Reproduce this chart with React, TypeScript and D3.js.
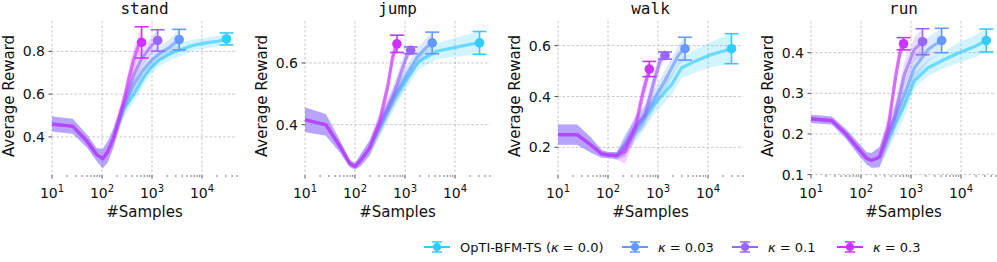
import React from "react";
import * as d3 from "d3";

// tasks / series
const tasks = ["stand", "jump", "walk", "run"];
const kappaLabels = ["0.0", "0.03", "0.1", "0.3"];
const colors = ["#33ccff", "#6699ff", "#9966ff", "#cc33ff"];
const xMajor = [10, 100, 1000, 10000];

// y ticks and limits per task
const yTicks = [
  [0.4, 0.6, 0.8],
  [0.4, 0.6],
  [0.2, 0.4, 0.6],
  [0.1, 0.2, 0.3, 0.4],
];
const yLims = [
  [0.222, 0.942],
  [0.237, 0.736],
  [0.091, 0.697],
  [0.099, 0.478],
];

// [samples, mean, std] ; shared warm-up part then one tail per kappa
const standShared = [[10, 0.46, 0.035], [26, 0.45, 0.035], [50, 0.38, 0.03], [78, 0.318, 0.03], [103, 0.298, 0.045], [130, 0.33, 0.05], [170, 0.395, 0.045]];
const standK0 = [[270, 0.53, 0.04], [430, 0.597, 0.035], [650, 0.67, 0.035], [930, 0.722, 0.035], [1400, 0.76, 0.03], [2100, 0.784, 0.03], [3000, 0.8, 0.03], [4500, 0.815, 0.03], [7000, 0.83, 0.025], [10000, 0.836, 0.025], [15000, 0.843, 0.025], [21000, 0.847, 0.025], [31000, 0.858, 0.028]];
const standK1 = [[270, 0.54, 0.04], [430, 0.644, 0.04], [650, 0.71, 0.04], [930, 0.753, 0.04], [1400, 0.79, 0.035], [2100, 0.815, 0.035], [3500, 0.855, 0.048]];
const standK2 = [[270, 0.55, 0.04], [430, 0.69, 0.04], [600, 0.76, 0.04], [800, 0.8, 0.04], [1000, 0.83, 0.04], [1300, 0.851, 0.05]];
const standK3 = [[270, 0.565, 0.04], [350, 0.68, 0.05], [430, 0.76, 0.05], [540, 0.83, 0.05], [620, 0.842, 0.073]];

const jumpShared = [[10, 0.416, 0.04], [26, 0.4, 0.035], [50, 0.33, 0.02], [78, 0.275, 0.012], [100, 0.265, 0.01], [130, 0.285, 0.02], [195, 0.324, 0.025]];
const jumpK0 = [[310, 0.39, 0.03], [600, 0.48, 0.03], [910, 0.53, 0.03], [1900, 0.605, 0.025], [4300, 0.638, 0.025], [9100, 0.649, 0.03], [19500, 0.66, 0.035], [31000, 0.665, 0.037]];
const jumpK1 = [[310, 0.395, 0.03], [600, 0.49, 0.03], [910, 0.54, 0.03], [1700, 0.616, 0.03], [2600, 0.649, 0.03], [3500, 0.665, 0.035]];
const jumpK2 = [[310, 0.4, 0.03], [590, 0.497, 0.03], [850, 0.573, 0.03], [1100, 0.625, 0.02], [1300, 0.641, 0.011]];
const jumpK3 = [[310, 0.41, 0.03], [460, 0.53, 0.03], [560, 0.616, 0.03], [690, 0.662, 0.028]];

const walkShared = [[10, 0.25, 0.04], [24, 0.25, 0.04], [45, 0.21, 0.03], [75, 0.174, 0.015], [100, 0.17, 0.012], [150, 0.167, 0.015]];
const walkK0 = [[220, 0.21, 0.04], [400, 0.276, 0.04], [870, 0.374, 0.04], [1860, 0.446, 0.04], [2950, 0.512, 0.04], [5500, 0.539, 0.045], [11700, 0.565, 0.05], [29500, 0.588, 0.059]];
const walkK1 = [[220, 0.21, 0.04], [350, 0.28, 0.04], [510, 0.315, 0.04], [870, 0.394, 0.04], [1600, 0.486, 0.04], [2600, 0.565, 0.04], [3470, 0.588, 0.045]];
const walkK2 = [[220, 0.2, 0.04], [350, 0.28, 0.04], [550, 0.328, 0.04], [870, 0.473, 0.04], [1100, 0.54, 0.03], [1380, 0.561, 0.014]];
const walkK3 = [[220, 0.184, 0.05], [350, 0.276, 0.04], [490, 0.407, 0.04], [670, 0.508, 0.03]];

const runShared = [[10, 0.237, 0.01], [26, 0.233, 0.01], [50, 0.2, 0.012], [95, 0.159, 0.015], [130, 0.14, 0.015], [163, 0.135, 0.018], [235, 0.143, 0.025]];
const runK0 = [[350, 0.19, 0.03], [700, 0.265, 0.03], [1170, 0.331, 0.02], [2200, 0.363, 0.02], [4100, 0.38, 0.02], [9100, 0.4, 0.025], [19500, 0.416, 0.027], [32000, 0.43, 0.028]];
const runK1 = [[350, 0.2, 0.03], [700, 0.29, 0.03], [1170, 0.363, 0.03], [2200, 0.408, 0.03], [3000, 0.42, 0.03], [4100, 0.43, 0.03]];
const runK2 = [[350, 0.2, 0.03], [470, 0.241, 0.03], [740, 0.347, 0.03], [1170, 0.408, 0.03], [1700, 0.427, 0.032]];
const runK3 = [[350, 0.216, 0.03], [490, 0.339, 0.03], [600, 0.4, 0.02], [710, 0.422, 0.015]];

const shared = [standShared, jumpShared, walkShared, runShared];
const tails = [
  [standK0, standK1, standK2, standK3],
  [jumpK0, jumpK1, jumpK2, jumpK3],
  [walkK0, walkK1, walkK2, walkK3],
  [runK0, runK1, runK2, runK3],
];

const W = 997;
const H = 262;
const panelLeft = 52;
const panelStep = 253;
const panelW = 185;
const top = 21;
const bottom = 175;
const font = "DejaVu Sans, sans-serif";

function Panel({ idx }: { idx: number }) {
  const x0 = panelLeft + idx * panelStep;
  const x = d3.scaleLog().domain([10, Math.pow(10, 4.7)]).range([x0, x0 + panelW]);
  const y = d3.scaleLinear().domain(yLims[idx]).range([bottom, top]);

  const minor: number[] = [];
  for (let e = 1; e <= 4; e++) {
    for (let m = 2; m <= 9; m++) {
      const v = m * Math.pow(10, e);
      if (v <= x.domain()[1]) minor.push(v);
    }
  }

  const line = d3.line<number[]>().x((d) => x(d[0])).y((d) => y(d[1]));
  const area = d3
    .area<number[]>()
    .x((d) => x(d[0]))
    .y0((d) => y(d[1] - d[2]))
    .y1((d) => y(d[1] + d[2]));

  const cx = x0 + panelW / 2;

  return (
    <g>
      {/* grid */}
      {xMajor.map((v) => (
        <line key={"gx" + v} x1={x(v)} x2={x(v)} y1={top} y2={bottom} stroke="#b8b8b8" strokeWidth={0.8} strokeDasharray="2.5,2" />
      ))}
      {yTicks[idx].map((v) => (
        <line key={"gy" + v} x1={x0} x2={x0 + panelW} y1={y(v)} y2={y(v)} stroke="#b8b8b8" strokeWidth={0.8} strokeDasharray="2.5,2" />
      ))}

      {/* series */}
      {tails[idx].map((tail, k) => {
        const pts = shared[idx].concat(tail);
        const last = pts[pts.length - 1];
        const px = x(last[0]);
        return (
          <g key={"s" + k}>
            <path d={area(pts) || ""} fill={colors[k]} fillOpacity={0.22} stroke="none" />
            <path d={line(pts) || ""} fill="none" stroke={colors[k]} strokeOpacity={0.65} strokeWidth={3.2} strokeLinejoin="round" />
            <line x1={px} x2={px} y1={y(last[1] - last[2])} y2={y(last[1] + last[2])} stroke={colors[k]} strokeWidth={1.6} />
            <line x1={px - 7} x2={px + 7} y1={y(last[1] - last[2])} y2={y(last[1] - last[2])} stroke={colors[k]} strokeWidth={1.6} />
            <line x1={px - 7} x2={px + 7} y1={y(last[1] + last[2])} y2={y(last[1] + last[2])} stroke={colors[k]} strokeWidth={1.6} />
            <circle cx={px} cy={y(last[1])} r={4.8} fill={colors[k]} />
          </g>
        );
      })}

      {/* x ticks */}
      {xMajor.map((v) => (
        <g key={"tx" + v}>
          <line x1={x(v)} x2={x(v)} y1={bottom} y2={bottom + 3.5} stroke="#222" strokeWidth={0.8} />
          <text x={x(v)} y={198} textAnchor="middle" fontSize={14} fontFamily={font} fill="#111">
            10
            <tspan dy={-6} fontSize={10}>
              {Math.round(Math.log10(v))}
            </tspan>
          </text>
        </g>
      ))}
      {minor.map((v) => (
        <line key={"mx" + v} x1={x(v)} x2={x(v)} y1={bottom} y2={bottom + 2} stroke="#222" strokeWidth={0.6} />
      ))}

      {/* y ticks */}
      {yTicks[idx].map((v) => (
        <g key={"ty" + v}>
          <line x1={x0 - 3.5} x2={x0} y1={y(v)} y2={y(v)} stroke="#222" strokeWidth={0.8} />
          <text x={x0 - 7} y={y(v)} dy="0.36em" textAnchor="end" fontSize={14} fontFamily={font} fill="#111">
            {d3.format(".1f")(v)}
          </text>
        </g>
      ))}

      {/* labels */}
      <text x={cx} y={14} textAnchor="middle" fontSize={16} fontFamily="DejaVu Sans Mono, monospace" fill="#111">
        {tasks[idx]}
      </text>
      <text x={cx} y={217} textAnchor="middle" fontSize={15} fontFamily={font} fill="#111">
        #Samples
      </text>
      <text transform={`translate(${x0 - 38},${(top + bottom) / 2 - 2}) rotate(-90)`} textAnchor="middle" fontSize={15} fontFamily={font} fill="#111">
        Average Reward
      </text>
    </g>
  );
}

const legendX = [437, 635, 745, 850];

function Legend() {
  const ly = 247;
  return (
    <g>
      {kappaLabels.map((lab, k) => {
        const cx = legendX[k];
        return (
          <g key={"l" + k}>
            <line x1={cx - 13} x2={cx + 13} y1={ly} y2={ly} stroke={colors[k]} strokeWidth={2} />
            <line x1={cx} x2={cx} y1={ly - 5} y2={ly + 5} stroke={colors[k]} strokeWidth={1.5} />
            <line x1={cx - 5} x2={cx + 5} y1={ly - 5} y2={ly - 5} stroke={colors[k]} strokeWidth={1.5} />
            <line x1={cx - 5} x2={cx + 5} y1={ly + 5} y2={ly + 5} stroke={colors[k]} strokeWidth={1.5} />
            <circle cx={cx} cy={ly} r={4} fill={colors[k]} />
            <text x={cx + 23} y={ly} dy="0.36em" fontSize={13} fontFamily={font} fill="#111">
              {k === 0 ? "OpTI-BFM-TS (" : ""}
              <tspan fontStyle="italic">κ</tspan>
              {" = " + lab}
              {k === 0 ? ")" : ""}
            </text>
          </g>
        );
      })}
    </g>
  );
}

export default function App() {
  return (
    <svg width={W} height={H} style={{ position: "absolute", left: 0, top: 0, background: "#fff" }}>
      <rect width={W} height={H} fill="#fff" />
      {tasks.map((t, i) => (
        <Panel key={t} idx={i} />
      ))}
      <Legend />
    </svg>
  );
}
